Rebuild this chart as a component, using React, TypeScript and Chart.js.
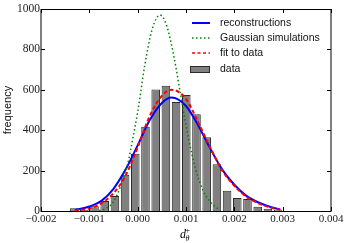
import React, { useEffect, useRef } from "react";
import { Chart, registerables } from "chart.js";

Chart.register(...registerables);

// ---- data ----
const binCenters = [
  -0.001315, -0.001104, -0.000893, -0.000682, -0.000471, -0.00026, -0.000049,
  0.000162, 0.000373, 0.000584, 0.000795, 0.001006, 0.001217, 0.001428,
  0.001639, 0.00185, 0.002061, 0.002272, 0.002483, 0.002694, 0.002905,
];
const binCounts = [
  13, 5, 24, 50, 74, 180, 283, 417, 602, 620, 540, 574, 479, 365, 231, 100, 64,
  59, 21, 11, 8,
];

const reconX = [
  -0.0013, -0.001, -0.00075, -0.0005, -0.00025, 0, 0.00025, 0.0005, 0.0007,
  0.001, 0.00125, 0.0015, 0.00175, 0.002, 0.00225, 0.0025, 0.00275, 0.00295,
];
const reconY = [4, 22, 50, 110, 205, 325, 450, 535, 562, 520, 425, 310, 205, 130, 75, 42, 20, 8];

const gaussX = [
  -0.0008, -0.0007, -0.0006, -0.0005, -0.00035, -0.0002, -0.0001, 0, 0.00015,
  0.0003, 0.00046, 0.0006, 0.00075, 0.0009, 0.00105, 0.0012, 0.00135, 0.0015,
  0.0016, 0.0017,
];
const gaussY = [2, 8, 22, 45, 125, 240, 360, 490, 725, 900, 970, 918, 764, 560, 362, 206, 103, 45, 22, 6];

const fitX = [
  -0.0013, -0.001, -0.00075, -0.0005, -0.00025, 0, 0.00025, 0.0005, 0.0007,
  0.001, 0.00125, 0.0015, 0.00175, 0.002, 0.00225, 0.0025, 0.00275, 0.00295,
];
const fitY = [3, 12, 38, 88, 175, 315, 470, 570, 600, 555, 440, 315, 200, 125, 70, 38, 17, 6];

const xTicks = [-0.002, -0.001, 0, 0.001, 0.002, 0.003, 0.004];
const yTicks = [0, 200, 400, 600, 800, 1000];

const legendLabels = ["reconstructions", "Gaussian simulations", "fit to data", "data"];
const yTitle = "frequency";

const BLUE = "#0000ff";
const GREEN = "#008000";
const RED = "#ff0000";
const BAR = "#808080";
const BAR_EDGE = "#2a2a2a";

const fmt = (v: number) => {
  const s = Math.abs(v) < 1e-12 ? "0.000" : v.toFixed(3);
  return s.replace("-", "\u2212");
};

const framePlugin = {
  id: "frameTicks",
  afterDatasetsDraw(chart: any) {
    const { ctx, chartArea, scales } = chart;
    const { left, right, top, bottom } = chartArea;
    const x = scales.x;
    const y = scales.y;
    ctx.save();
    ctx.strokeStyle = "#000";
    ctx.lineWidth = 1;
    ctx.beginPath();
    ctx.moveTo(left, top + 0.5);
    ctx.lineTo(right, top + 0.5);
    ctx.moveTo(left, bottom + 0.5);
    ctx.lineTo(right, bottom + 0.5);
    ctx.moveTo(left, top);
    ctx.lineTo(left, bottom + 1);
    ctx.moveTo(right, top);
    ctx.lineTo(right, bottom + 1);
    const tl = 4;
    for (const v of xTicks) {
      const px = Math.round(x.getPixelForValue(v)) + 0.5;
      ctx.moveTo(px, bottom);
      ctx.lineTo(px, bottom - tl);
      ctx.moveTo(px, top);
      ctx.lineTo(px, top + tl);
    }
    for (const v of yTicks) {
      const py = Math.round(y.getPixelForValue(v)) + 0.5;
      ctx.moveTo(left, py);
      ctx.lineTo(left + tl, py);
      ctx.moveTo(right, py);
      ctx.lineTo(right - tl, py);
    }
    ctx.stroke();
    ctx.restore();
  },
  afterDraw(chart: any) {
    const { ctx, chartArea } = chart;
    const cx = (chartArea.left + chartArea.right) / 2;
    ctx.save();
    ctx.fillStyle = "#000";
    // x-axis label d_theta^+
    ctx.textBaseline = "alphabetic";
    ctx.textAlign = "left";
    ctx.font = 'italic 12px "Liberation Serif"';
    ctx.fillText("d", cx - 6, 238);
    ctx.font = 'italic 8px "Liberation Serif"';
    ctx.fillText("\u03b8", cx - 0.5, 241);
    ctx.font = '8px "Liberation Serif"';
    ctx.fillText("+", cx - 0.5, 233);

    // legend
    const lx0 = 192;
    const lx1 = 210;
    const tx = 220;
    const rows = [23, 38, 53, 69];
    ctx.font = '10.5px "Liberation Sans"';
    ctx.textBaseline = "middle";
    ctx.lineWidth = 2;
    ctx.strokeStyle = BLUE;
    ctx.setLineDash([]);
    ctx.beginPath();
    ctx.moveTo(lx0, rows[0]);
    ctx.lineTo(lx1, rows[0]);
    ctx.stroke();
    ctx.strokeStyle = GREEN;
    ctx.lineWidth = 1.5;
    ctx.setLineDash([1.5, 2.5]);
    ctx.beginPath();
    ctx.moveTo(lx0, rows[1]);
    ctx.lineTo(lx1, rows[1]);
    ctx.stroke();
    ctx.strokeStyle = RED;
    ctx.lineWidth = 1.5;
    ctx.setLineDash([3, 2.5]);
    ctx.beginPath();
    ctx.moveTo(lx0, rows[2]);
    ctx.lineTo(lx1, rows[2]);
    ctx.stroke();
    ctx.setLineDash([]);
    ctx.fillStyle = BAR;
    ctx.fillRect(190.5, rows[3] - 3, 19, 6);
    ctx.strokeStyle = BAR_EDGE;
    ctx.lineWidth = 1;
    ctx.strokeRect(190.5, rows[3] - 2.5, 19, 6);
    ctx.fillStyle = "#111";
    legendLabels.forEach((t, i) => ctx.fillText(t, tx, rows[i] + 0.5));
    ctx.restore();
  },
};

export default function App() {
  const ref = useRef<HTMLCanvasElement | null>(null);
  useEffect(() => {
    if (!ref.current) return;
    Chart.defaults.color = "#000";
    const chart = new Chart(ref.current, {
      type: "bar",
      data: {
        datasets: [
          {
            type: "line",
            label: legendLabels[2],
            data: fitX.map((x, i) => ({ x, y: fitY[i] })),
            borderColor: RED,
            borderWidth: 2,
            borderDash: [4, 2.5],
            pointRadius: 0,
            cubicInterpolationMode: "monotone",
            fill: false,
            order: 0,
          } as any,
          {
            type: "line",
            label: legendLabels[1],
            data: gaussX.map((x, i) => ({ x, y: gaussY[i] })),
            borderColor: GREEN,
            borderWidth: 1.5,
            borderDash: [1.5, 2.5],
            pointRadius: 0,
            cubicInterpolationMode: "monotone",
            fill: false,
            order: 1,
          } as any,
          {
            type: "line",
            label: legendLabels[0],
            data: reconX.map((x, i) => ({ x, y: reconY[i] })),
            borderColor: BLUE,
            borderWidth: 2,
            pointRadius: 0,
            cubicInterpolationMode: "monotone",
            fill: false,
            order: 2,
          } as any,
          {
            type: "bar",
            label: legendLabels[3],
            data: binCenters.map((x, i) => ({ x, y: binCounts[i] })),
            backgroundColor: BAR,
            borderColor: BAR_EDGE,
            borderWidth: 1,
            barPercentage: 0.84,
            categoryPercentage: 1,
            order: 3,
          } as any,
        ],
      },
      options: {
        animation: false,
        responsive: false,
        devicePixelRatio: 1,
        layout: { padding: { left: 0, right: 17, top: 9, bottom: 0 } },
        plugins: { legend: { display: false }, tooltip: { enabled: false } },
        scales: {
          x: {
            type: "linear",
            min: -0.002,
            max: 0.004,
            offset: false,
            grid: { display: false, drawTicks: false },
            border: { display: false },
            afterBuildTicks: (s: any) => {
              s.ticks = xTicks.map((v) => ({ value: v }));
            },
            afterFit: (s: any) => {
              s.height = 32;
            },
            ticks: {
              padding: 2,
              maxRotation: 0,
              autoSkip: false,
              font: { family: "Liberation Serif", size: 11 },
              color: "#222",
              callback: (v: any) => fmt(Number(v)),
            },
          },
          y: {
            type: "linear",
            min: 0,
            max: 1000,
            grid: { display: false, drawTicks: false },
            border: { display: false },
            afterBuildTicks: (s: any) => {
              s.ticks = yTicks.map((v) => ({ value: v }));
            },
            afterFit: (s: any) => {
              s.width = 41;
            },
            ticks: {
              padding: 1,
              autoSkip: false,
              font: { family: "Liberation Serif", size: 11.5 },
              color: "#222",
              callback: (v: any) => String(v),
            },
            title: {
              display: true,
              text: yTitle,
              font: { family: "Liberation Sans", size: 11 },
              color: "#111",
              padding: { top: 1, bottom: 0 },
            },
          },
        },
      },
      plugins: [framePlugin],
    });
    return () => chart.destroy();
  }, []);
  return (
    <div style={{ position: "fixed", left: 0, top: 0, width: 348, height: 243, background: "#fff" }}>
      <canvas ref={ref} width={348} height={243} />
    </div>
  );
}
